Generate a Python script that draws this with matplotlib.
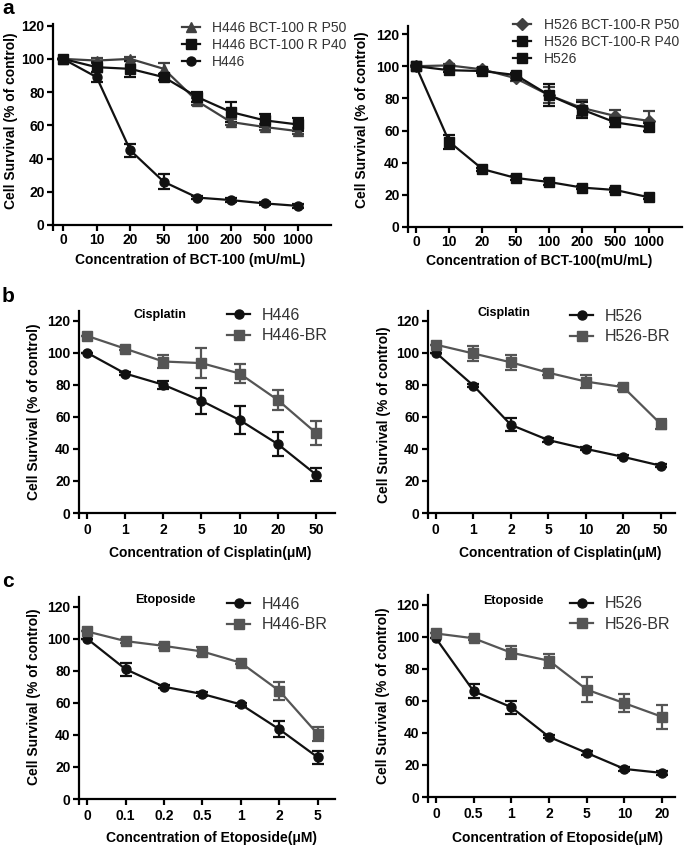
import matplotlib
matplotlib.use('Agg')
import matplotlib.pyplot as plt

plt.rcParams['font.family'] = ['Liberation Sans', 'DejaVu Sans']

W, H = 685, 846

# ---- data ----
# a: BCT-100 resistance
bct_doses = ['0', '10', '20', '50', '100', '200', '500', '1000']
h446_p50 = [100, 99, 100, 94, 74.5, 62, 59, 56.5]
h446_p50_err = [0, 1.5, 1, 3.5, 2, 2, 2, 2]
h446_p40 = [100, 95, 94, 89, 77, 68, 63, 60.5]
h446_p40_err = [0, 3, 5, 2, 3, 6, 4, 4]
h446_bct = [100, 89, 45, 26, 16.5, 15, 13, 11.5]
h446_bct_err = [0, 3, 4, 4.5, 1, 1, 1, 1]

h526_p50 = [100, 100.5, 98, 92.5, 82, 74, 69, 66]
h526_p50_err = [0, 1, 1, 1.5, 5, 5, 4, 6]
h526_p40 = [100, 97.5, 97, 94.5, 82, 73, 65, 62]
h526_p40_err = [0, 1, 1, 1, 7, 5, 3, 2.5]
h526_bct = [100, 53, 36, 30.5, 28, 24.5, 23, 18.5]
h526_bct_err = [0, 4.5, 1, 1.5, 2, 1, 1, 1]

# b: cisplatin
cis_doses = ['0', '1', '2', '5', '10', '20', '50']
h446_cis = [100, 87, 80, 70, 58, 43, 24]
h446_cis_err = [0, 1, 2.5, 8, 9, 7.5, 4]
h446br_cis = [110.5, 102.5, 94.5, 93.5, 87, 70.5, 50]
h446br_cis_err = [0, 1, 4, 9.5, 6, 6, 7.5]
h526_cis = [100, 79.5, 55, 45.5, 40, 35, 29.5]
h526_cis_err = [0, 1, 4, 1, 1, 1, 1]
h526br_cis = [105, 99.5, 94, 87.5, 82, 78.5, 55.5]
h526br_cis_err = [0, 4.5, 4.5, 1.5, 4, 1.5, 3]

# c: etoposide
eto_doses_446 = ['0', '0.1', '0.2', '0.5', '1', '2', '5']
h446_eto = [100, 81, 70, 65.5, 59, 43.5, 26]
h446_eto_err = [0, 4, 1, 1, 1, 5, 4]
h446br_eto = [104.5, 98.5, 95.5, 92, 85, 67.5, 40.5]
h446br_eto_err = [0, 1, 1, 3, 1, 5.5, 4.5]
eto_doses_526 = ['0', '0.5', '1', '2', '5', '10', '20']
h526_eto = [99, 66, 56, 37.5, 27.5, 17.5, 15]
h526_eto_err = [0, 4.5, 4, 1, 1, 1, 1]
h526br_eto = [102, 99, 90, 85, 67, 58.5, 50]
h526br_eto_err = [0, 1, 4, 4.5, 8, 5.5, 7.5]

BLACK = '#111111'
GRAY = '#555555'
DGRAY = '#404040'
TXT = '#333333'

fig = plt.figure(figsize=(W / 100, H / 100), dpi=100)


def px_axes(left, right, top, bottom):
    return fig.add_axes([left / W, 1 - bottom / H, (right - left) / W, (bottom - top) / H])


def style(ax, labels, xlim, ytop, xpad=3):
    ax.set_xlim(*xlim)
    ax.set_ylim(0, ytop)
    for s in ['top', 'right']:
        ax.spines[s].set_visible(False)
    for s in ['left', 'bottom']:
        ax.spines[s].set_linewidth(1.6)
    ax.set_xticks(range(len(labels)))
    ax.set_xticklabels(labels, fontweight='bold', fontsize=10)
    ax.set_yticks(range(0, 121, 20))
    ax.set_yticklabels([str(v) for v in range(0, 121, 20)], fontweight='bold', fontsize=10)
    ax.set_xticks([xlim[0]], minor=True)
    ax.tick_params(which='both', direction='out', length=4, width=1.6, pad=2)
    ax.tick_params(axis='x', pad=xpad)


def curve(ax, y, err, color, marker, ms, label):
    ax.errorbar(range(len(y)), y, yerr=err, color=color, marker=marker, ms=ms,
                lw=1.6, elinewidth=1.6, capsize=4.5, capthick=1.6, label=label)


def legend(ax, x, y, fs, hl, htp, ls):
    handles, labels = ax.get_legend_handles_labels()
    handles = [h[0] for h in handles]
    leg = ax.legend(handles, labels, loc='center left', bbox_to_anchor=(x / W, 1 - y / H),
                    bbox_transform=fig.transFigure, frameon=False, borderpad=0,
                    borderaxespad=0, handlelength=hl, handletextpad=htp, labelspacing=ls,
                    prop={'size': fs})
    for t in leg.get_texts():
        t.set_color(TXT)


def ylab(x, y):
    fig.text(x / W, 1 - y / H, 'Cell Survival (% of control)', rotation=90,
             ha='center', va='center', fontweight='bold', fontsize=10)


def xlab(x, y, s):
    fig.text(x / W, 1 - y / H, s, ha='center', va='center', fontweight='bold', fontsize=10)


# ---- a left ----
ax = px_axes(53, 331, 24, 225)
style(ax, bct_doses, (-0.3, 7.98), 121, xpad=2)
curve(ax, h446_p50, h446_p50_err, DGRAY, '^', 7, 'H446 BCT-100 R P50')
curve(ax, h446_p40, h446_p40_err, BLACK, 's', 6.5, 'H446 BCT-100 R P40')
curve(ax, h446_bct, h446_bct_err, BLACK, 'o', 6.5, 'H446')
legend(ax, 182, 45, 10, 1.3, 0.85, 0.2)
ylab(11, 121)
xlab(190, 260, 'Concentration of BCT-100 (mU/mL)')

# ---- a right ----
ax = px_axes(408, 682, 26, 227)
style(ax, bct_doses, (-0.24, 8.0), 125, xpad=2)
curve(ax, h526_p50, h526_p50_err, DGRAY, 'D', 6, 'H526 BCT-100-R P50')
curve(ax, h526_p40, h526_p40_err, BLACK, 's', 6.5, 'H526 BCT-100-R P40')
curve(ax, h526_bct, h526_bct_err, BLACK, 's', 6.5, 'H526')
legend(ax, 513, 42, 10, 1.3, 0.95, 0.2)
ylab(362, 120)
xlab(539, 261, 'Concentration of BCT-100(mU/mL)')

# ---- b left ----
ax = px_axes(79, 335, 311, 513)
style(ax, cis_doses, (-0.21, 6.5), 126)
curve(ax, h446_cis, h446_cis_err, BLACK, 'o', 6.5, 'H446')
curve(ax, h446br_cis, h446br_cis_err, GRAY, 's', 7, 'H446-BR')
legend(ax, 227, 325.5, 11.5, 1.45, 0.75, 0.35)
fig.text(160 / W, 1 - 315 / H, 'Cisplatin', ha='center', va='center', fontweight='bold', fontsize=9)
ylab(34, 412)
xlab(210, 553, 'Concentration of Cisplatin(μM)')

# ---- b right ----
ax = px_axes(428, 675, 311, 513)
style(ax, cis_doses, (-0.21, 6.38), 126)
curve(ax, h526_cis, h526_cis_err, BLACK, 'o', 6.5, 'H526')
curve(ax, h526br_cis, h526br_cis_err, GRAY, 's', 7, 'H526-BR')
legend(ax, 570, 326.5, 11.5, 1.45, 0.75, 0.35)
fig.text(504 / W, 1 - 313 / H, 'Cisplatin', ha='center', va='center', fontweight='bold', fontsize=9)
ylab(384, 415)
xlab(560, 553, 'Concentration of Cisplatin(μM)')

# ---- c left ----
ax = px_axes(79, 335, 597, 799)
style(ax, eto_doses_446, (-0.21, 6.45), 126)
curve(ax, h446_eto, h446_eto_err, BLACK, 'o', 6.5, 'H446')
curve(ax, h446br_eto, h446br_eto_err, GRAY, 's', 7, 'H446-BR')
legend(ax, 227, 614.5, 11.5, 1.45, 0.75, 0.35)
fig.text(165 / W, 1 - 600 / H, 'Etoposide', ha='center', va='center', fontweight='bold', fontsize=9)
ylab(34, 697)
xlab(211, 838, 'Concentration of Etoposide(μM)')

# ---- c right ----
ax = px_axes(428, 675, 595, 797)
style(ax, eto_doses_526, (-0.21, 6.34), 126)
curve(ax, h526_eto, h526_eto_err, BLACK, 'o', 6.5, 'H526')
curve(ax, h526br_eto, h526br_eto_err, GRAY, 's', 7, 'H526-BR')
legend(ax, 570, 614, 11.5, 1.45, 0.75, 0.35)
fig.text(513 / W, 1 - 601 / H, 'Etoposide', ha='center', va='center', fontweight='bold', fontsize=9)
ylab(383, 696)
xlab(558, 838, 'Concentration of Etoposide(μM)')

# panel letters
for letter, y in [('a', 8), ('b', 297), ('c', 581)]:
    fig.text(2 / W, 1 - y / H, letter, ha='left', va='center', fontweight='bold', fontsize=15)

fig.savefig('out.png', dpi=100)
